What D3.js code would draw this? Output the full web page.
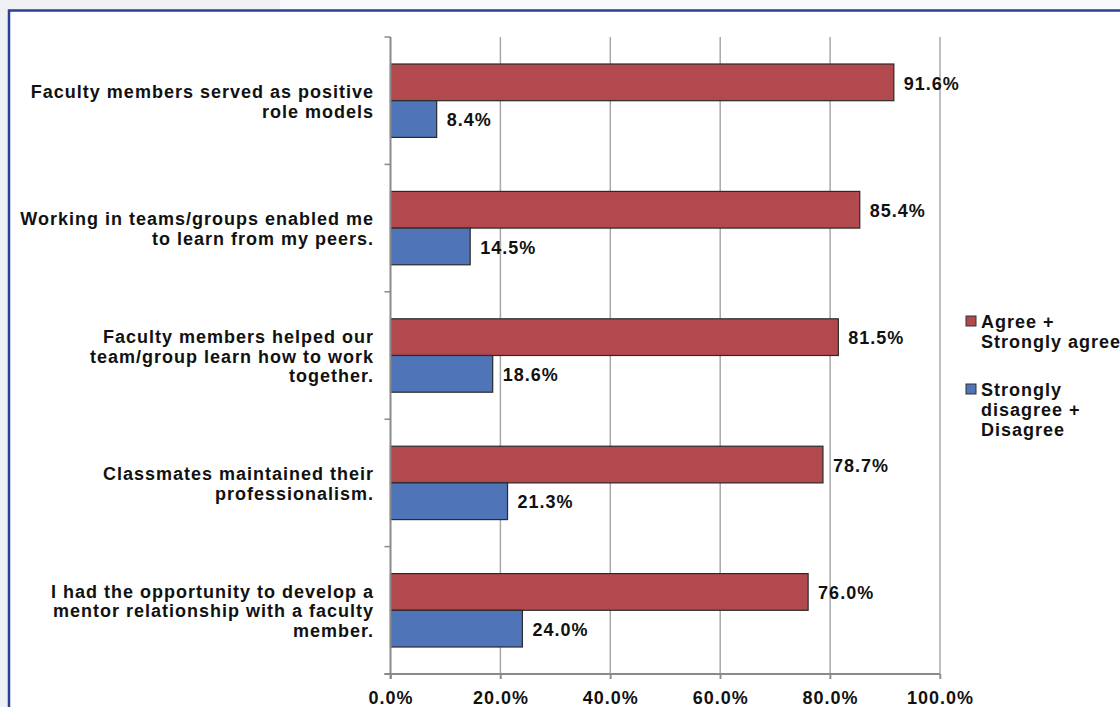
<!DOCTYPE html>
<html><head><meta charset="utf-8">
<script src="https://cdn.jsdelivr.net/npm/d3@7"></script>
<style>html,body{margin:0;padding:0;background:#eef0f3;}svg{display:block;}</style>
</head><body>
<svg id="c" width="1120" height="707"></svg>
<script>
const categories = [
  ["Faculty members served as positive", "role models"],
  ["Working in teams/groups enabled me", "to learn from my peers."],
  ["Faculty members helped our", "team/group learn how to work", "together."],
  ["Classmates maintained their", "professionalism."],
  ["I had the opportunity to develop a", "mentor relationship with a faculty", "member."]
];
const seriesNames = ["agree", "disagree"];
const legendLabels = [["Agree +", "Strongly agree"], ["Strongly", "disagree +", "Disagree"]];
const agreeValues = [91.6, 85.4, 81.5, 78.7, 76.0];
const disagreeValues = [8.4, 14.5, 18.6, 21.3, 24.0];
const tickValues = [0, 20, 40, 60, 80, 100];
const colors = {agree: "#b2494e", disagree: "#4f75b8"};

const svg = d3.select("#c");
const font = "'Liberation Sans', Arial, sans-serif";
const fs = 18, ls = 1.0;

// background panel
svg.append("rect").attr("x", 280).attr("y", 0).attr("width", 840).attr("height", 10).attr("fill", "#f8f9fa");
svg.append("rect").attr("x", 9).attr("y", 10.5).attr("width", 1200).attr("height", 800)
  .attr("fill", "#ffffff").attr("stroke", "#2c3f98").attr("stroke-width", 2.5);

const x = d3.scaleLinear().domain([0, 100]).range([390.5, 940]);
const y = d3.scaleBand().domain(d3.range(categories.length)).range([37, 674]);
const ySub = d3.scaleBand().domain(seriesNames).range([0, y.bandwidth()]).paddingOuter(0.736);

// gridlines (extend below axis as tick marks)
svg.append("g").selectAll("line").data(tickValues.slice(1)).join("line")
  .attr("x1", d => x(d)).attr("x2", d => x(d)).attr("y1", 37).attr("y2", 679)
  .attr("stroke", "#a8a8a8").attr("stroke-width", 1.5);

// bars
const rows = categories.map((c, i) => ({i, agree: agreeValues[i], disagree: disagreeValues[i]}));
seriesNames.forEach(s => {
  svg.append("g").selectAll("rect").data(rows).join("rect")
    .attr("x", x(0)).attr("y", d => y(d.i) + ySub(s))
    .attr("width", d => x(d[s]) - x(0)).attr("height", ySub.bandwidth())
    .attr("fill", colors[s]).attr("stroke", "#2a2a2a").attr("stroke-width", 1.2);
  svg.append("g").selectAll("text").data(rows).join("text")
    .attr("x", d => x(d[s]) + 10).attr("y", d => y(d.i) + ySub(s) + ySub.bandwidth() / 2 + 2.5)
    .attr("dominant-baseline", "middle")
    .attr("font-family", font).attr("font-weight", "bold").attr("font-size", fs)
    .attr("letter-spacing", ls).attr("fill", "#111")
    .text(d => d[s].toFixed(1) + "%");
});

// y axis
const yAxis = d3.axisLeft(y).tickSize(0).tickFormat("");
const gy = svg.append("g").attr("transform", `translate(${x(0)},0)`).call(yAxis);
gy.select(".domain").attr("stroke", "#8a8a8a").attr("stroke-width", 2).attr("d", `M0,${y.range()[0]}V679`);
// category separator ticks
svg.append("g").selectAll("line").data(d3.range(categories.length + 1)).join("line")
  .attr("x1", x(0) - 6).attr("x2", x(0))
  .attr("y1", d => d < categories.length ? y(d) : y.range()[1])
  .attr("y2", d => d < categories.length ? y(d) : y.range()[1])
  .attr("stroke", "#8a8a8a").attr("stroke-width", 1.5);

// category labels
const lh = 19.8;
svg.append("g").selectAll("text").data(categories).join("text")
  .attr("text-anchor", "end")
  .attr("font-family", font).attr("font-weight", "bold").attr("font-size", fs)
  .attr("letter-spacing", ls).attr("fill", "#111")
  .each(function(lines, i) {
    const cy = y(i) + y.bandwidth() / 2;
    const t = d3.select(this);
    lines.forEach((l, k) => {
      t.append("tspan").attr("x", 374)
        .attr("y", cy + (k - (lines.length - 1) / 2) * lh + 7)
        .text(l);
    });
  });

// x axis
const xAxis = d3.axisBottom(x).tickValues(tickValues).tickSize(5).tickFormat(d => d.toFixed(1) + "%");
const gx = svg.append("g").attr("transform", `translate(0,674)`).call(xAxis);
gx.select(".domain").attr("stroke", "#8a8a8a").attr("stroke-width", 2).attr("d", `M${x(0)-6},0H${x(100)}`);
gx.selectAll(".tick line").attr("stroke", "#8a8a8a").attr("stroke-width", 1.5);
gx.selectAll(".tick text").attr("font-family", font).attr("font-weight", "bold").attr("font-size", fs)
  .attr("letter-spacing", ls).attr("fill", "#111").attr("dy", 0).attr("y", 29.5);

// legend
const legY = [322, 390];
seriesNames.forEach((s, i) => {
  svg.append("rect").attr("x", 966).attr("y", legY[i] - 6).attr("width", 10).attr("height", 10)
    .attr("fill", colors[s]).attr("stroke", "#333").attr("stroke-width", 1);
  const t = svg.append("text").attr("font-family", font).attr("font-weight", "bold").attr("font-size", fs)
    .attr("letter-spacing", ls).attr("fill", "#111");
  legendLabels[i].forEach((l, k) => {
    t.append("tspan").attr("x", 981).attr("y", legY[i] + 6 + k * 20).text(l);
  });
});
</script>
</body></html>
